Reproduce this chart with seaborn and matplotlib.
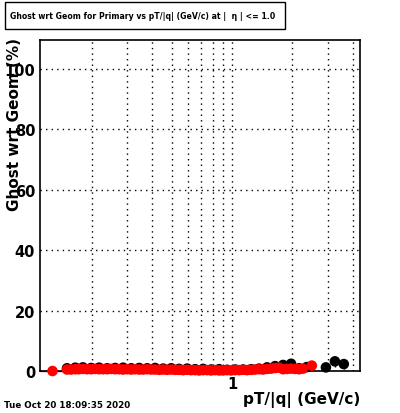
import numpy as np
import pandas as pd
import matplotlib
matplotlib.use("Agg")
import matplotlib.pyplot as plt
from matplotlib.ticker import MultipleLocator, FixedLocator, NullFormatter
import seaborn as sns

# pT bins (GeV/c) and ghost rates (%)
pt_red = [0.127, 0.150, 0.157, 0.165, 0.172, 0.180, 0.189, 0.198, 0.207, 0.217,
          0.227, 0.238, 0.249, 0.261, 0.273, 0.286, 0.300, 0.314, 0.328, 0.344,
          0.360, 0.377, 0.395, 0.413, 0.433, 0.453, 0.474, 0.497, 0.520, 0.544,
          0.570, 0.597, 0.625, 0.654, 0.685, 0.717, 0.751, 0.786, 0.823, 0.862,
          0.902, 0.945, 0.989, 1.036, 1.084, 1.135, 1.189, 1.245, 1.303, 1.364,
          1.428, 1.495, 1.565, 1.639, 1.716, 1.797, 1.881, 1.970, 2.062, 2.160,
          2.260, 2.500]
ghost_red = [0.0, 0.5, 0.5, 0.6, 0.6, 0.7, 0.6, 0.6, 0.7, 0.6,
             0.6, 0.6, 0.7, 0.6, 0.6, 0.5, 0.6, 0.5, 0.6, 0.5,
             0.5, 0.6, 0.5, 0.5, 0.4, 0.5, 0.4, 0.5, 0.4, 0.4,
             0.3, 0.4, 0.3, 0.3, 0.2, 0.3, 0.3, 0.2, 0.3, 0.2,
             0.2, 0.3, 0.2, 0.3, 0.3, 0.4, 0.3, 0.4, 0.5, 0.6,
             0.5, 0.7, 0.8, 1.0, 1.1, 0.6, 0.7, 0.8, 0.7, 0.6,
             0.8, 1.8]

pt_black = [0.150, 0.165, 0.180, 0.198, 0.217, 0.238, 0.261, 0.286, 0.314, 0.344,
            0.377, 0.413, 0.453, 0.497, 0.544, 0.597, 0.654, 0.717, 0.786, 0.862,
            0.945, 1.036, 1.135, 1.245, 1.364, 1.495, 1.639, 1.797, 1.970, 2.160,
            2.360, 2.940, 3.260, 3.610]
ghost_black = [0.9, 1.1, 1.2, 1.0, 1.1, 0.9, 1.0, 1.1, 0.9, 1.0,
               0.9, 1.0, 0.8, 0.9, 0.7, 0.8, 0.6, 0.7, 0.5, 0.6,
               0.4, 0.5, 0.5, 0.6, 0.8, 1.2, 1.6, 2.0, 2.4, 0.9,
               1.3, 1.2, 3.2, 2.3]
err_black = [0.2, 0.2, 0.2, 0.2, 0.2, 0.2, 0.2, 0.2, 0.2, 0.2,
             0.2, 0.2, 0.2, 0.2, 0.2, 0.2, 0.2, 0.2, 0.2, 0.2,
             0.2, 0.2, 0.3, 0.3, 0.3, 0.4, 0.5, 0.6, 0.7, 0.6,
             0.8, 1.0, 1.8, 1.5]

df = pd.concat([
    pd.DataFrame({"pt": pt_black, "ghost": ghost_black, "series": "black"}),
    pd.DataFrame({"pt": pt_red, "ghost": ghost_red, "series": "red"}),
])

sns.set_style("white")
plt.rcParams["font.family"] = ["DejaVu Sans"]
for key in ["text.color", "axes.labelcolor", "xtick.color", "ytick.color"]:
    plt.rcParams[key] = "black"

fig = plt.figure(figsize=(4.0, 4.14), dpi=100)
ax = fig.add_axes([0.1, 0.1014, 0.8, 0.7995])

ax.errorbar(pt_black, ghost_black, yerr=err_black, fmt="none", ecolor="black", lw=1, zorder=2)
ax.plot([0.110, 0.142], [0, 0], color="red", lw=1, zorder=2, clip_on=False)
sns.scatterplot(data=df, x="pt", y="ghost", hue="series",
                palette={"black": "black", "red": "red"},
                s=58, linewidth=0, legend=False, ax=ax, zorder=3, clip_on=False)

ax.set_xscale("log")
ax.set_xlim(0.110, 4.35)
ax.set_ylim(0, 109.6)

ax.xaxis.set_major_locator(FixedLocator([1]))
ax.set_xticklabels(["1"])
ax.xaxis.set_minor_locator(FixedLocator([0.2, 0.3, 0.4, 0.5, 0.6, 0.7, 0.8, 0.9, 2, 3, 4]))
ax.xaxis.set_minor_formatter(NullFormatter())
ax.yaxis.set_major_locator(MultipleLocator(20))
ax.yaxis.set_minor_locator(MultipleLocator(5))

ax.tick_params(which="both", direction="in", top=False, right=False, color="black",
               labelsize=10.5, labelcolor="black")
ax.tick_params(which="major", length=9, width=1)
ax.tick_params(which="minor", length=5, width=1)
for lab in ax.get_xticklabels() + ax.get_yticklabels():
    lab.set_fontweight("bold")

ax.grid(True, which="both", axis="x", linestyle=(0, (1, 3)), color="black", lw=1)
ax.grid(True, which="major", axis="y", linestyle=(0, (1, 3)), color="black", lw=1)

for sp in ax.spines.values():
    sp.set_color("black")
    sp.set_linewidth(1.2)

ax.set_xlabel("")
ax.set_ylabel("")
fig.text(0.9, 0.034, "pT/|q| (GeV/c)", ha="right", va="center", fontsize=11, fontweight="bold")
fig.text(0.037, 0.70, "Ghost wrt Geom (%)", ha="center", va="center", rotation=90,
         fontsize=11, fontweight="bold")

fig.patches.append(plt.Rectangle((0.0125, 0.928), 0.7, 0.0655, transform=fig.transFigure,
                                 fill=False, edgecolor="black", lw=1))
fig.text(0.3575, 0.961, "Ghost wrt Geom for Primary vs pT/|q| (GeV/c) at |  \u03b7 | <= 1.0",
         ha="center", va="center", fontsize=5.6, fontweight="bold")

fig.text(0.01, 0.021, "Tue Oct 20 18:09:35 2020", ha="left", va="center",
         fontsize=6.3, fontweight="bold")

fig.savefig("out.png", dpi=100)
